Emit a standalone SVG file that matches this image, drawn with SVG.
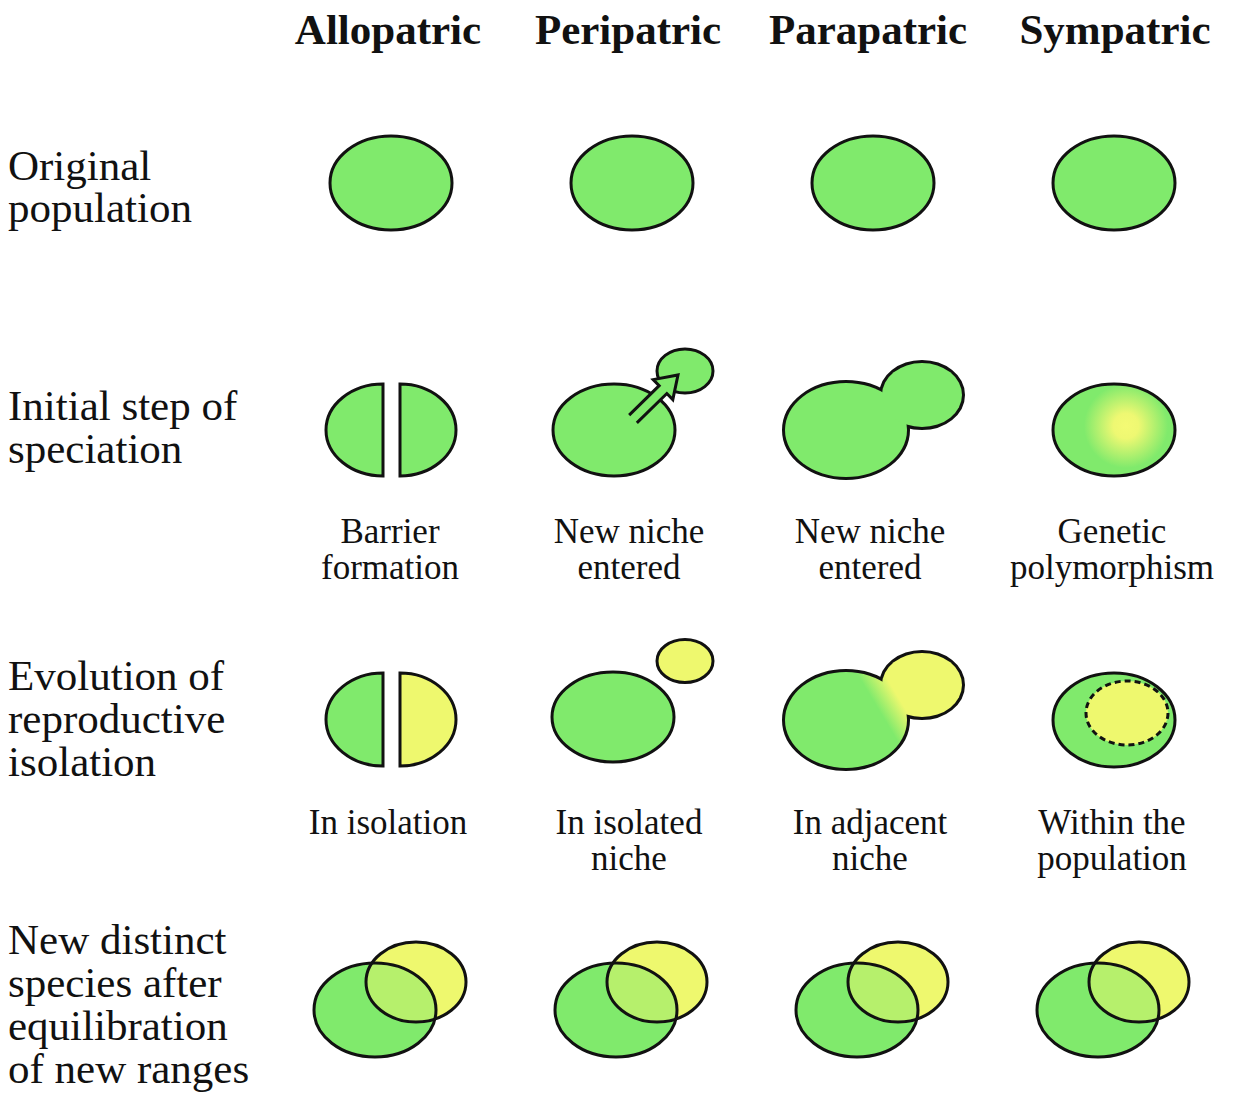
<svg xmlns="http://www.w3.org/2000/svg" width="1234" height="1100" viewBox="0 0 1234 1100">
<style>
.hd{font-family:"Liberation Serif","Times New Roman",serif;font-weight:bold;font-size:43px;fill:#111;text-anchor:middle}
.rl{font-family:"Liberation Serif","Times New Roman",serif;font-size:43px;fill:#111}
.cp{font-family:"Liberation Serif","Times New Roman",serif;font-size:35px;fill:#111;text-anchor:middle}
.g{fill:#80ea6c;stroke:#111;stroke-width:3}
.y{fill:#eef86e;stroke:#111;stroke-width:3}
.s{fill:none;stroke:#111;stroke-width:3}
.s6{stroke:#111;stroke-width:6}
.nf{stroke:none}
</style>
<defs>
<radialGradient id="poly" cx="1126" cy="426" r="42" gradientUnits="userSpaceOnUse">
<stop offset="0" stop-color="#f4fa74"/>
<stop offset="0.3" stop-color="#eef872"/>
<stop offset="1" stop-color="#80ea6c"/>
</radialGradient>
<linearGradient id="adj" x1="880" y1="712" x2="900" y2="700" gradientUnits="userSpaceOnUse">
<stop offset="0" stop-color="#80ea6c"/>
<stop offset="1" stop-color="#eef86e"/>
</linearGradient>
<clipPath id="c1"><ellipse cx="375" cy="1010" rx="61" ry="47"/></clipPath>
<clipPath id="c2"><ellipse cx="616" cy="1010" rx="61" ry="47"/></clipPath>
<clipPath id="c3"><ellipse cx="857" cy="1010" rx="61" ry="47"/></clipPath>
<clipPath id="c4"><ellipse cx="1098" cy="1010" rx="61" ry="47"/></clipPath>
</defs>
<rect width="1234" height="1100" fill="#fff"/>

<g id="headers">
<text class="hd" x="388" y="44">Allopatric</text>
<text class="hd" x="628" y="44">Peripatric</text>
<text class="hd" x="868" y="44">Parapatric</text>
<text class="hd" x="1115" y="44">Sympatric</text>
</g>

<g id="row-labels">
<text class="rl" x="8" y="180">Original</text>
<text class="rl" x="8" y="222">population</text>
<text class="rl" x="8" y="420">Initial step of</text>
<text class="rl" x="8" y="463">speciation</text>
<text class="rl" x="8" y="690">Evolution of</text>
<text class="rl" x="8" y="733">reproductive</text>
<text class="rl" x="8" y="776">isolation</text>
<text class="rl" x="8" y="954">New distinct</text>
<text class="rl" x="8" y="997">species after</text>
<text class="rl" x="8" y="1040">equilibration</text>
<text class="rl" x="8" y="1083">of new ranges</text>
</g>

<g id="row1-original">
<ellipse class="g" cx="391" cy="183" rx="61" ry="47"/>
<ellipse class="g" cx="632" cy="183" rx="61" ry="47"/>
<ellipse class="g" cx="873" cy="183" rx="61" ry="47"/>
<ellipse class="g" cx="1114" cy="183" rx="61" ry="47"/>
</g>

<g id="row2-allopatric">
<path class="g" d="M383,384 A57,46 0 0 0 383,476 Z"/>
<path class="g" d="M400,384 A56,46 0 0 1 400,476 Z"/>
</g>
<g id="row2-peripatric">
<ellipse class="g" cx="614" cy="430" rx="61" ry="46"/>
<ellipse class="g" cx="685" cy="371" rx="28" ry="22"/>
<path class="g" d="M0,-5.5 L42,-5.5 L42,-14 L63,0 L42,14 L42,5.5 L0,5.5" transform="translate(633,419) rotate(-44.4)"/>
</g>
<g id="row2-parapatric">
<ellipse class="s6" fill="#80ea6c" cx="846" cy="430" rx="61" ry="47"/>
<ellipse class="s6" fill="#80ea6c" cx="922" cy="395" rx="40" ry="32"/>
<ellipse class="nf" fill="#80ea6c" cx="846" cy="430" rx="61" ry="47"/>
<ellipse class="nf" fill="#80ea6c" cx="922" cy="395" rx="40" ry="32"/>
</g>
<g id="row2-sympatric">
<ellipse cx="1114" cy="430" rx="61" ry="46" fill="url(#poly)" stroke="#111" stroke-width="3"/>
</g>

<g id="row2-captions">
<text class="cp" x="390" y="543">Barrier</text>
<text class="cp" x="390" y="579">formation</text>
<text class="cp" x="629" y="543">New niche</text>
<text class="cp" x="629" y="579">entered</text>
<text class="cp" x="870" y="543">New niche</text>
<text class="cp" x="870" y="579">entered</text>
<text class="cp" x="1112" y="543">Genetic</text>
<text class="cp" x="1112" y="579">polymorphism</text>
</g>

<g id="row3-allopatric">
<path class="g" d="M383,673 A57,46.5 0 0 0 383,766 Z"/>
<path class="y" d="M400,673 A56,46.5 0 0 1 400,766 Z"/>
</g>
<g id="row3-peripatric">
<ellipse class="g" cx="613" cy="717" rx="61" ry="45"/>
<ellipse class="y" cx="685" cy="661" rx="28" ry="21.5"/>
</g>
<g id="row3-parapatric">
<ellipse class="s6" fill="url(#adj)" cx="846" cy="720" rx="61" ry="48"/>
<ellipse class="s6" fill="url(#adj)" cx="922" cy="685" rx="40" ry="32"/>
<ellipse class="nf" fill="url(#adj)" cx="846" cy="720" rx="61" ry="48"/>
<ellipse class="nf" fill="url(#adj)" cx="922" cy="685" rx="40" ry="32"/>
</g>
<g id="row3-sympatric">
<ellipse class="g" cx="1114" cy="720" rx="61" ry="47"/>
<ellipse class="y" cx="1127" cy="713" rx="41" ry="32" stroke-dasharray="6 4"/>
</g>

<g id="row3-captions">
<text class="cp" x="388" y="834">In isolation</text>
<text class="cp" x="629" y="834">In isolated</text>
<text class="cp" x="629" y="870">niche</text>
<text class="cp" x="870" y="834">In adjacent</text>
<text class="cp" x="870" y="870">niche</text>
<text class="cp" x="1112" y="834">Within the</text>
<text class="cp" x="1112" y="870">population</text>
</g>

<g id="row4-allopatric">
<ellipse class="nf" fill="#80ea6c" cx="375" cy="1010" rx="61" ry="47"/>
<ellipse class="nf" fill="#eef86e" cx="416" cy="982" rx="50" ry="40"/>
<ellipse class="nf" fill="#b6f06c" cx="416" cy="982" rx="50" ry="40" clip-path="url(#c1)"/>
<ellipse class="s" cx="375" cy="1010" rx="61" ry="47"/>
<ellipse class="s" cx="416" cy="982" rx="50" ry="40"/>
</g>
<g id="row4-peripatric">
<ellipse class="nf" fill="#80ea6c" cx="616" cy="1010" rx="61" ry="47"/>
<ellipse class="nf" fill="#eef86e" cx="657" cy="982" rx="50" ry="40"/>
<ellipse class="nf" fill="#b6f06c" cx="657" cy="982" rx="50" ry="40" clip-path="url(#c2)"/>
<ellipse class="s" cx="616" cy="1010" rx="61" ry="47"/>
<ellipse class="s" cx="657" cy="982" rx="50" ry="40"/>
</g>
<g id="row4-parapatric">
<ellipse class="nf" fill="#80ea6c" cx="857" cy="1010" rx="61" ry="47"/>
<ellipse class="nf" fill="#eef86e" cx="898" cy="982" rx="50" ry="40"/>
<ellipse class="nf" fill="#b6f06c" cx="898" cy="982" rx="50" ry="40" clip-path="url(#c3)"/>
<ellipse class="s" cx="857" cy="1010" rx="61" ry="47"/>
<ellipse class="s" cx="898" cy="982" rx="50" ry="40"/>
</g>
<g id="row4-sympatric">
<ellipse class="nf" fill="#80ea6c" cx="1098" cy="1010" rx="61" ry="47"/>
<ellipse class="nf" fill="#eef86e" cx="1139" cy="982" rx="50" ry="40"/>
<ellipse class="nf" fill="#b6f06c" cx="1139" cy="982" rx="50" ry="40" clip-path="url(#c4)"/>
<ellipse class="s" cx="1098" cy="1010" rx="61" ry="47"/>
<ellipse class="s" cx="1139" cy="982" rx="50" ry="40"/>
</g>

<g id="connectors"></g>
</svg>
